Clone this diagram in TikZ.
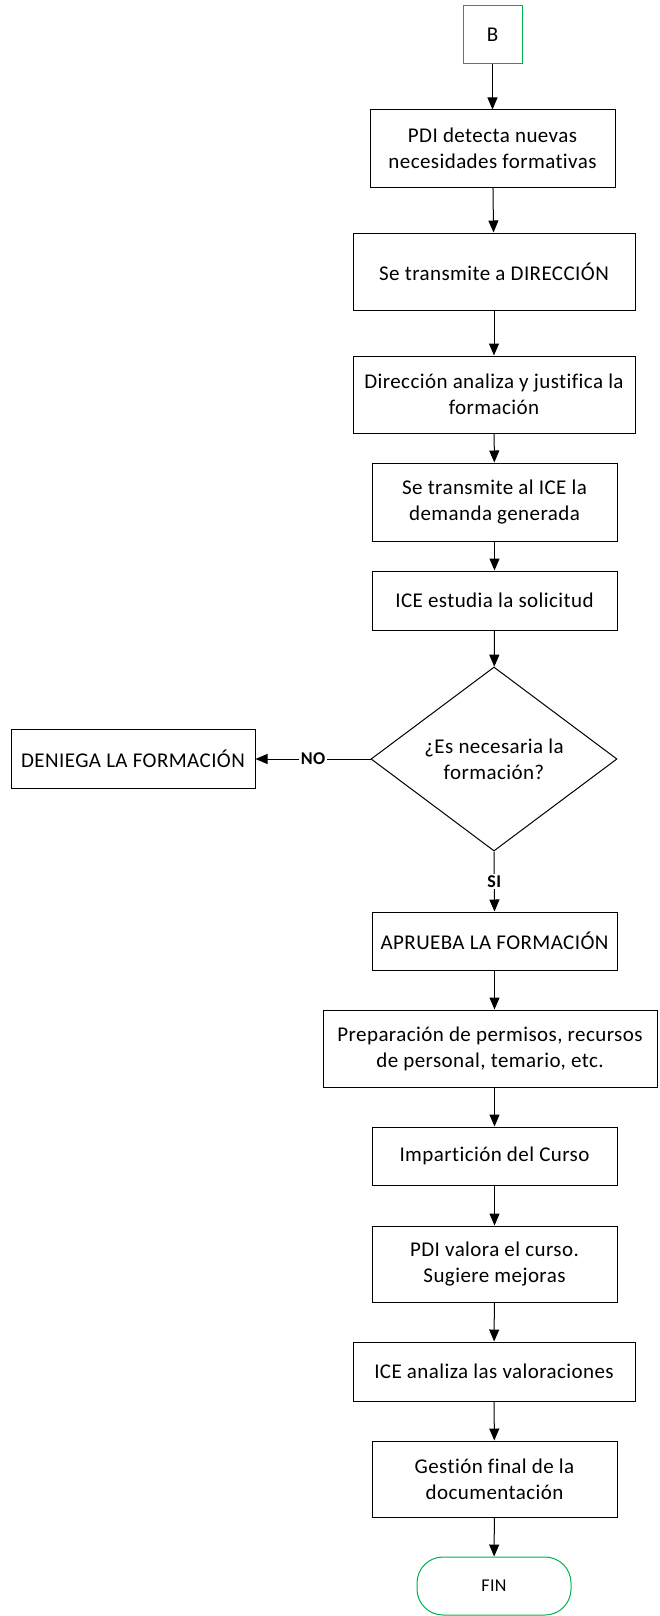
\documentclass[tikz,border=0pt]{standalone}
\usepackage{fontspec}
\setmainfont{Carlito}[Ligatures = NoCommon, LetterSpace = 2.0]
\usepackage{xcolor}
\usepackage{tikz}
\usetikzlibrary{shapes.geometric,arrows.meta}
\definecolor{verde}{RGB}{0,176,80}

\begin{document}
\begin{tikzpicture}[x = 0.5pt, y = -0.5pt,
  caja/.style = {draw, line width = 0.5pt, align = center, inner sep = 1pt,
                 font = \fontsize{10.5}{13}\selectfont},
  terminal/.style = {draw = verde, line width = 0.5pt, inner sep = 1pt},
  decision/.style = {diamond, draw, line width = 0.5pt, align = center, inner sep = 0pt,
                     shape aspect = 1.34, font = \fontsize{10.5}{13}\selectfont},
  flecha/.style = {line width = 0.5pt, -{Triangle[length = 6pt, width = 5pt]}},
  etiqueta/.style = {fill = white, inner sep = 1pt, font = \fontsize{9}{10}\selectfont\bfseries}]

\useasboundingbox (0,0) rectangle (659,1616);

\node[terminal, minimum width = 29.5pt, minimum height = 29pt,
      font = \fontsize{10.5}{13}\selectfont] (b) at (492.5,35) {B};
\node[caja, minimum width = 122.5pt, minimum height = 38.5pt] (pdi) at (492.5,148.5)
  {PDI detecta nuevas\\necesidades formativas};
\node[caja, minimum width = 141pt, minimum height = 38.5pt] (transmite) at (494,271.5)
  {Se transmite a DIRECCIÓN};
\node[caja, minimum width = 141pt, minimum height = 38.5pt] (analiza) at (494,394.5)
  {Dirección analiza y justifica la\\formación};
\node[caja, minimum width = 122.5pt, minimum height = 39pt] (alice) at (494.5,502)
  {Se transmite al ICE la\\demanda generada};
\node[caja, minimum width = 122.5pt, minimum height = 29.5pt] (estudia) at (494.5,600.5)
  {ICE estudia la solicitud};
\node[decision, minimum width = 123pt, minimum height = 92pt] (necesaria) at (494,759)
  {¿Es necesaria la\\formación?};
\node[caja, minimum width = 122pt, minimum height = 29.5pt] (deniega) at (133,759)
  {DENIEGA LA FORMACIÓN};
\node[caja, minimum width = 122.5pt, minimum height = 29pt] (aprueba) at (494.5,941)
  {APRUEBA LA FORMACIÓN};
\node[caja, minimum width = 167pt, minimum height = 38.5pt] (prepara) at (490,1048.5)
  {Preparación de permisos, recursos\\de personal, temario, etc.};
\node[caja, minimum width = 122.5pt, minimum height = 29pt] (imparte) at (494.5,1156)
  {Impartición del Curso};
\node[caja, minimum width = 122.5pt, minimum height = 38pt] (valora) at (494.5,1264)
  {PDI valora el curso.\\Sugiere mejoras};
\node[caja, minimum width = 141pt, minimum height = 29.5pt] (valoraciones) at (494,1371.5)
  {ICE analiza las valoraciones};
\node[caja, minimum width = 122.5pt, minimum height = 38pt] (gestion) at (494.5,1479)
  {Gestión final de la\\documentación};
\node[terminal, rounded corners = 13pt, minimum width = 77pt, minimum height = 29pt,
      font = \fontsize{9}{11}\selectfont] (fin) at (494,1586) {FIN};

\draw[flecha] (b) -- (pdi);
\draw[flecha] (pdi) -- (transmite);
\draw[flecha] (transmite) -- (analiza);
\draw[flecha] (analiza) -- (alice);
\draw[flecha] (alice) -- (estudia);
\draw[flecha] (estudia) -- (necesaria);
\draw[flecha] (necesaria.west) -- node[etiqueta] {NO} (deniega.east);
\draw[flecha] (necesaria.south) -- node[etiqueta] {SI} (aprueba.north);
\draw[flecha] (aprueba) -- (prepara.north -| aprueba);
\draw[flecha] (prepara.south -| imparte) -- (imparte);
\draw[flecha] (imparte) -- (valora);
\draw[flecha] (valora) -- (valoraciones);
\draw[flecha] (valoraciones) -- (gestion);
\draw[flecha] (gestion) -- (fin);

\end{tikzpicture}
\end{document}
